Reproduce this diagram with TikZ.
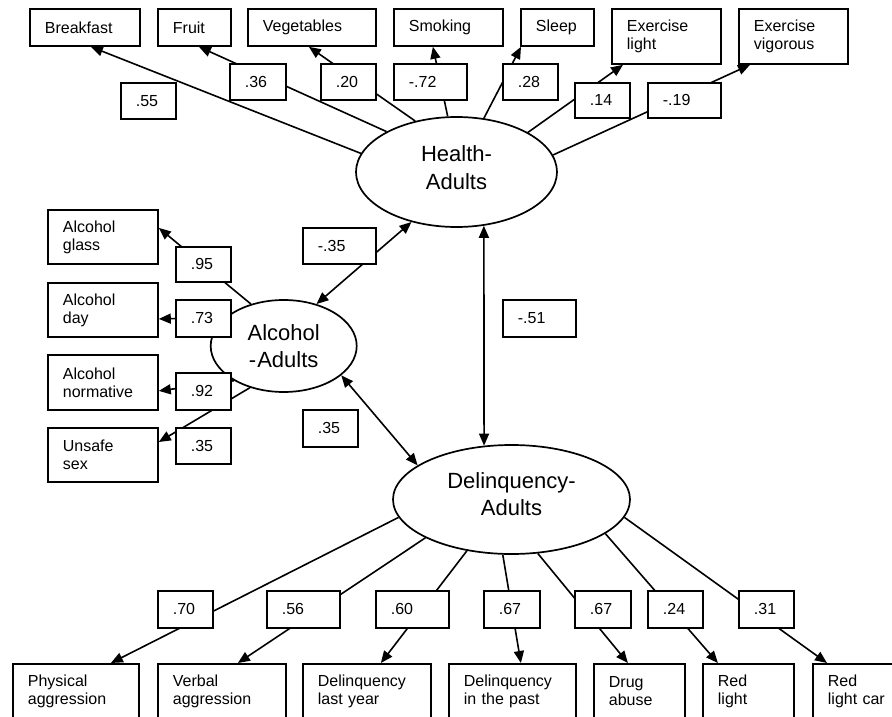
\documentclass[tikz,border=0pt]{standalone}
\usepackage{fontspec}
\setmainfont{Liberation Sans}
\usetikzlibrary{shapes.geometric,arrows.meta}
\begin{document}
\begin{tikzpicture}[x=1pt,y=-1pt,
  every node/.style={font=\fontsize{16}{18}\selectfont},
  bx/.style={draw, line width=1.8pt, fill=white, rectangle, anchor=north west, inner xsep=15pt, inner ysep=0pt, align=left},
  lat/.style={draw, ellipse, line width=1.7pt, inner sep=0pt, align=center, font=\fontsize{22}{27.5}\selectfont},
  ln/.style={line width=1.6pt},
  arr/.style={ln, -{Triangle[length=12pt,width=10pt]}},
  darr/.style={ln, {Triangle[length=12pt,width=10pt]}-{Triangle[length=12pt,width=10pt]}}]
\fill[white] (0,0) rectangle (892,717);
\useasboundingbox (0,0) rectangle (892,717);

% latent variables
\node[lat, minimum width=201pt, minimum height=110pt, text depth=8.5pt] (H) at (456.5,172) {Health-\\Adults};
\node[lat, minimum width=146pt, minimum height=92pt, font=\fontsize{22}{26.5}\selectfont] (A) at (283.7,346) {Alcohol\\-\kern1pt Adults};
\node[lat, minimum width=237pt, minimum height=109pt, text depth=11pt] (D) at (511.5,499.5) {Delinquency-\\Adults};

% indicators: top
\node[bx, text width=80pt, minimum height=37pt] (brk) at (29,8) {Breakfast};
\node[bx, text width=43pt, minimum height=37pt] (fru) at (157,8) {Fruit};
\node[bx, text width=98pt, minimum height=37pt] (veg) at (247,8) {Vegetables};
\node[bx, text width=79pt, minimum height=37pt] (smo) at (393,8) {Smoking};
\node[bx, text width=43pt, minimum height=37pt] (slp) at (520,8) {Sleep};
\node[bx, text width=79pt, minimum height=55pt] (exl) at (611,8) {Exercise\\light};
\node[bx, text width=79pt, minimum height=55pt] (exv) at (738,8) {Exercise\\vigorous};

% indicators: left
\node[bx, text width=80pt, minimum height=54pt] (alg) at (47,209) {Alcohol\\glass};
\node[bx, text width=80pt, minimum height=54pt] (ald) at (47,282) {Alcohol\\day};
\node[bx, text width=80pt, minimum height=55pt] (aln) at (47,354) {Alcohol\\normative};
\node[bx, text width=80pt, minimum height=54pt] (uns) at (47,427) {Unsafe\\sex};

% indicators: bottom
\node[bx, text width=96pt, minimum height=55pt] (phy) at (12,663) {Physical\\aggression};
\node[bx, text width=98pt, minimum height=55pt] (ver) at (157,663) {Verbal\\aggression};
\node[bx, text width=98pt, minimum height=55pt] (dly) at (302,663) {Delinquency\\last year};
\node[bx, text width=97pt, minimum height=55pt] (dpa) at (448,663) {Delinquency\\in the past};
\node[bx, text width=61pt, minimum height=55pt] (drg) at (593,663) {Drug\\abuse};
\node[bx, text width=61pt, minimum height=55pt] (rl) at (702,663) {Red\\light};
\node[bx, text width=61pt, minimum height=55pt] (rlc) at (812,663) {Red\\light car};

% loadings: health
\draw[arr] (H.169.7) -- ([xshift=6pt]brk.south);
\draw[arr] (H.150.3) -- ([xshift=4.5pt]fru.south);
\draw[arr] (H.129.5) -- ([xshift=-3pt]veg.south);
\draw[arr] (H.99.8) -- ([xshift=-15.5pt]smo.south);
\draw[arr] (H.63.9) -- ([xshift=1pt]slp.south west);
\draw[arr] (H.29.5) -- ([xshift=12pt]exl.south west);
\draw[arr] (H.10.2) -- ([xshift=12pt]exv.south west);

% loadings: alcohol
\draw[arr] (A.128) -- ([yshift=9pt]alg.east);
\draw[arr] (A.154) -- ([yshift=-9pt]ald.east);
\draw[arr] (A.215) -- ([yshift=-8.5pt]aln.east);
\draw[arr] (A.231) -- ([yshift=-15pt]uns.north east);

% loadings: delinquency
\draw[arr] (D.189.4) -- ([xshift=35pt]phy.north);
\draw[arr] (D.204.2) -- ([xshift=16pt]ver.north);
\draw[arr] (D.229) -- ([xshift=14pt]dly.north);
\draw[arr] (D.261) -- ([xshift=8.5pt]dpa.north);
\draw[arr] (D.296.3) -- ([xshift=-11.5pt]drg.north);
\draw[arr] (D.340.2) -- ([xshift=-30.5pt]rl.north);
\draw[arr] (D.351) -- ([xshift=15pt]rlc.north west);

% correlations
\draw[darr] (A.52) -- (H.228);
\draw[darr] (H.-63) -- (D.117);
\draw[darr] (A.-27) -- (D.160);

% coefficient labels
\node[bx, text width=25pt, minimum height=36pt] (l55) at (120,82) {.55};
\node[bx, text width=26pt, minimum height=36pt] (l36) at (229,63) {.36};
\node[bx, text width=25pt, minimum height=36pt] (l20) at (320,63) {.20};
\node[bx, text width=43pt, minimum height=36pt] (l72) at (393,63) {-.72};
\node[bx, text width=25pt, minimum height=36pt] (l28) at (502,63) {.28};
\node[bx, text width=25pt, minimum height=35pt] (l14) at (574,82) {.14};
\node[bx, text width=43pt, minimum height=35pt] (l19) at (647,82) {-.19};

\node[bx, text width=25pt, minimum height=35pt] (l95) at (175,246) {.95};
\node[bx, text width=25pt, minimum height=37pt] (l73) at (175,299) {.73};
\node[bx, text width=25pt, minimum height=37pt] (l92) at (175,372) {.92};
\node[bx, text width=25pt, minimum height=36pt] (l35u) at (175,427) {.35};

\node[bx, text width=43pt, minimum height=36pt] (lm35) at (302,227) {-.35};
\node[bx, text width=25pt, minimum height=37pt] (lp35) at (302,409) {.35};
\node[bx, text width=43pt, minimum height=37pt] (l51) at (502,299) {-.51};

\node[bx, text width=25pt, minimum height=37pt] (l70) at (157,590) {.70};
\node[bx, text width=43pt, minimum height=37pt] (l56) at (266,590) {.56};
\node[bx, text width=43pt, minimum height=37pt] (l60) at (375,590) {.60};
\node[bx, text width=26pt, minimum height=37pt] (l67a) at (483,590) {.67};
\node[bx, text width=26pt, minimum height=37pt] (l67b) at (574,590) {.67};
\node[bx, text width=25pt, minimum height=37pt] (l24) at (647,590) {.24};
\node[bx, text width=25pt, minimum height=37pt] (l31) at (738,590) {.31};
\end{tikzpicture}
\end{document}
